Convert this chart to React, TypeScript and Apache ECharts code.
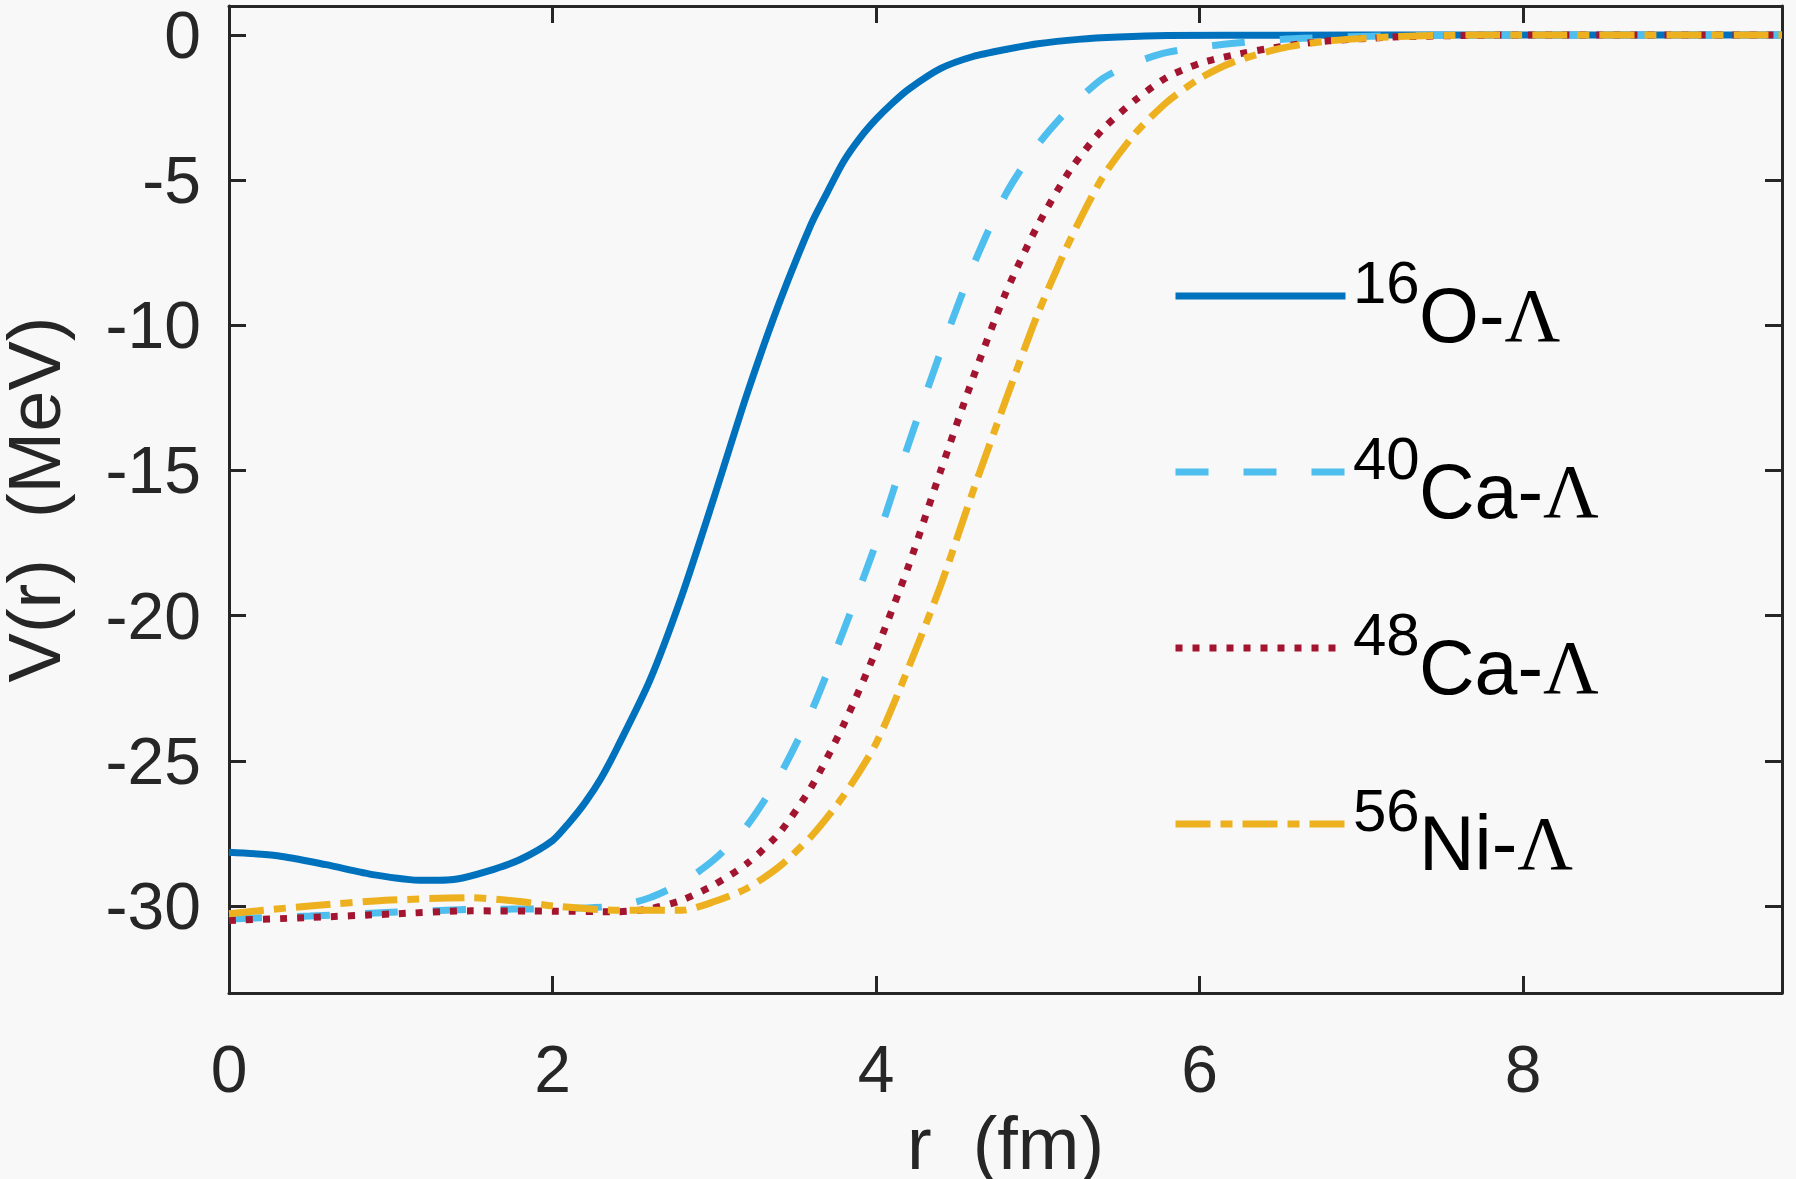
import React, { useEffect, useRef } from "react";
import * as echarts from "echarts";

// ---- data ----
const O16_R = [0, 0.3, 0.6, 0.9, 1.2, 1.4, 1.6, 1.8, 2.0, 2.1, 2.2, 2.3, 2.4, 2.6, 2.8, 3.0, 3.2, 3.4, 3.6, 3.7, 3.8, 3.9, 4.0, 4.1, 4.2, 4.4, 4.6, 4.8, 5.0, 5.25, 5.5, 5.8, 6.5, 7.5, 9.6];
const O16_V = [-28.15, -28.27, -28.58, -28.93, -29.12, -29.08, -28.8, -28.4, -27.75, -27.15, -26.45, -25.6, -24.55, -22.25, -19.3, -15.9, -12.4, -9.25, -6.5, -5.4, -4.35, -3.55, -2.9, -2.35, -1.87, -1.15, -0.74, -0.5, -0.3, -0.15, -0.07, -0.02, -0.005, 0, 0];

const CA40_R = [0, 0.5, 1.0, 1.5, 2.0, 2.4, 2.6, 2.8, 3.0, 3.2, 3.4, 3.6, 3.8, 4.0, 4.2, 4.4, 4.6, 4.8, 5.0, 5.2, 5.4, 5.6, 5.8, 6.1, 6.5, 7.0, 7.5, 8.0, 9.6];
const CA40_V = [-30.45, -30.35, -30.22, -30.12, -30.1, -30.0, -29.72, -29.2, -28.4, -27.25, -25.55, -23.3, -20.5, -17.5, -14.1, -10.9, -7.95, -5.5, -3.78, -2.5, -1.5, -0.95, -0.6, -0.35, -0.15, -0.05, -0.01, 0, 0];

const CA48_R = [0, 0.5, 1.0, 1.5, 2.0, 2.4, 2.6, 2.8, 3.0, 3.2, 3.4, 3.6, 3.8, 4.0, 4.2, 4.4, 4.6, 4.8, 5.0, 5.2, 5.4, 5.6, 5.8, 6.0, 6.2, 6.5, 6.8, 7.2, 7.7, 8.0, 9.6];
const CA48_V = [-30.5, -30.4, -30.28, -30.17, -30.18, -30.2, -30.1, -29.8, -29.27, -28.55, -27.5, -25.9, -23.75, -21.2, -18.3, -15.0, -11.8, -8.9, -6.55, -4.65, -3.25, -2.25, -1.45, -0.98, -0.7, -0.4, -0.2, -0.07, -0.01, 0, 0];

const NI56_R = [0, 0.5, 1.0, 1.5, 1.8, 2.0, 2.4, 2.8, 3.0, 3.2, 3.4, 3.6, 3.8, 4.0, 4.2, 4.4, 4.6, 4.8, 5.0, 5.2, 5.4, 5.6, 5.8, 6.0, 6.2, 6.5, 6.8, 7.2, 7.7, 9.6];
const NI56_V = [-30.27, -30.0, -29.8, -29.72, -29.85, -30.0, -30.15, -30.15, -29.85, -29.4, -28.65, -27.6, -26.2, -24.4, -21.8, -18.95, -15.7, -12.6, -9.6, -7.05, -4.9, -3.4, -2.3, -1.5, -0.95, -0.46, -0.2, -0.06, 0, 0];

const X_TICKS = [0, 2, 4, 6, 8];
const Y_TICKS = [-30, -25, -20, -15, -10, -5, 0];

const SERIES_NAMES = ["16O-Λ", "40Ca-Λ", "48Ca-Λ", "56Ni-Λ"];
const LEGEND_SUP = ["16", "40", "48", "56"];
const LEGEND_BASE = ["O-", "Ca-", "Ca-", "Ni-"];

// ---- styles ----
const W = 1796;
const H = 1179;
const AX = "#262626";
const FONT = "'Liberation Sans', Arial, Helvetica, sans-serif";
const SERIF = "'Liberation Serif', 'Times New Roman', serif";
const COLORS = ["#0072BD", "#4DBEEE", "#A2142F", "#EDB120"];
const DASHES: any[] = ["solid", [33, 35], [7, 10], [35, 10, 12, 10]];
const LEGEND_Y = [296, 472, 648, 824];
const LEGEND_X = 1172;
const LEGEND_LINE_W = 170;
const SUP_X = 1353;
const MAIN_X = 1419;
const SUP_SIZE = 60;
const MAIN_SIZE = 77;

const zip = (r: number[], v: number[]) => r.map((x, i) => [x, v[i]]);

export default function App() {
  const ref = useRef<HTMLDivElement>(null);

  useEffect(() => {
    if (!ref.current) return;
    const chart = echarts.init(ref.current, undefined, { renderer: "svg", width: W, height: H });

    const datasets = [zip(O16_R, O16_V), zip(CA40_R, CA40_V), zip(CA48_R, CA48_V), zip(NI56_R, NI56_V)];

    const axisLine = { show: true, onZero: false, lineStyle: { color: AX, width: 3 } };
    const tickStyle = { color: AX, width: 3 };

    // legend labels: superscript mass number + element + serif Lambda
    const labelGraphics: any[] = [];
    SERIES_NAMES.forEach((_, i) => {
      const y = LEGEND_Y[i];
      const supBase = y + 5;
      const mainBase = y + 43;
      labelGraphics.push({
        type: "text",
        x: SUP_X,
        y: supBase - 0.31 * SUP_SIZE,
        silent: true,
        style: {
          text: LEGEND_SUP[i],
          fill: "#000",
          font: `${SUP_SIZE}px ${FONT}`,
          align: "left",
          verticalAlign: "middle",
        },
      });
      labelGraphics.push({
        type: "text",
        x: MAIN_X,
        y: mainBase - 0.31 * MAIN_SIZE,
        silent: true,
        style: {
          text: `{txt|${LEGEND_BASE[i]}}{lam|Λ}`,
          align: "left",
          verticalAlign: "middle",
          rich: {
            txt: { fontSize: MAIN_SIZE, fontFamily: FONT, fill: "#000" },
            lam: { fontSize: MAIN_SIZE, fontFamily: SERIF, fill: "#000" },
          },
        },
      });
    });

    const option: any = {
      animation: false,
      backgroundColor: "#f8f8f8",
      grid: { left: 229, right: 14, top: 6, bottom: 186, containLabel: false, outerBoundsMode: "none" },
      xAxis: [
        {
          type: "value",
          min: 0,
          max: 9.6,
          position: "bottom",
          axisLine,
          axisTick: { show: true, inside: true, length: 17, lineStyle: tickStyle, customValues: X_TICKS },
          axisLabel: { show: true, customValues: X_TICKS, margin: 43, fontSize: 66, fontFamily: FONT, color: AX },
          splitLine: { show: false },
          name: "r  (fm)",
          nameLocation: "middle",
          nameGap: 112,
          nameTextStyle: { fontSize: 74, lineHeight: 60, fontFamily: FONT, color: AX },
        },
        {
          type: "value",
          min: 0,
          max: 9.6,
          position: "top",
          axisLine,
          axisTick: { show: true, inside: true, length: 17, lineStyle: tickStyle, customValues: X_TICKS },
          axisLabel: { show: false },
          splitLine: { show: false },
        },
      ],
      yAxis: [
        {
          type: "value",
          min: -33,
          max: 1,
          position: "left",
          axisLine,
          axisTick: { show: true, inside: true, length: 17, lineStyle: tickStyle, customValues: Y_TICKS },
          axisLabel: { show: true, customValues: Y_TICKS, margin: 28, fontSize: 66, lineHeight: 50, fontFamily: FONT, color: AX },
          splitLine: { show: false },
          name: "V(r)  (MeV)",
          nameLocation: "middle",
          nameGap: 165,
          nameTextStyle: { fontSize: 74, lineHeight: 60, fontFamily: FONT, color: AX },
        },
        {
          type: "value",
          min: -33,
          max: 1,
          position: "right",
          axisLine,
          axisTick: { show: true, inside: true, length: 17, lineStyle: tickStyle, customValues: Y_TICKS },
          axisLabel: { show: false },
          splitLine: { show: false },
        },
      ],
      legend: SERIES_NAMES.map((name, i) => ({
        data: [name],
        left: LEGEND_X,
        top: LEGEND_Y[i] - 4,
        padding: 0,
        orient: "vertical",
        itemWidth: LEGEND_LINE_W,
        itemHeight: 8,
        selectedMode: false,
        itemStyle: { opacity: 0, borderWidth: 0 },
        lineStyle: { width: 7 },
        formatter: () => "",
        textStyle: { fontSize: 1, color: "rgba(0,0,0,0)" },
      })),
      graphic: labelGraphics,
      series: SERIES_NAMES.map((name, i) => ({
        name,
        type: "line",
        xAxisIndex: 0,
        yAxisIndex: 0,
        data: datasets[i],
        symbol: "none",
        smooth: 0.25,
        lineStyle: { color: COLORS[i], width: 7, type: DASHES[i], cap: "butt" },
        itemStyle: { color: COLORS[i] },
        z: 2 + i,
      })),
    };

    chart.setOption(option);
    return () => chart.dispose();
  }, []);

  return (
    <div
      ref={ref}
      style={{ position: "fixed", left: 0, top: 0, width: W, height: H, background: "#f8f8f8" }}
    />
  );
}
